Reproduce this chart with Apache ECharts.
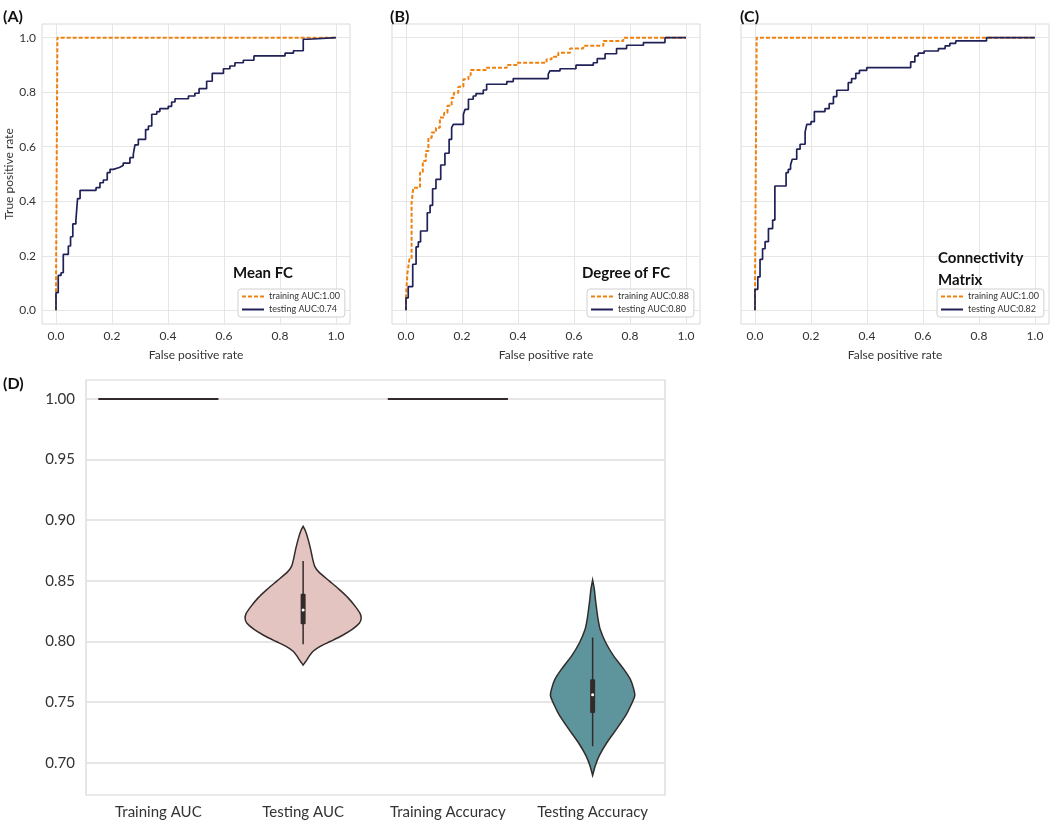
<!DOCTYPE html>
<html>
<head>
<meta charset="utf-8">
<script src="https://cdn.jsdelivr.net/npm/echarts@6.0.0/dist/echarts.min.js"></script>
<style>
  html, body { margin: 0; padding: 0; background: #fff; }
  #main { width: 1050px; height: 820px; }
</style>
</head>
<body>
<div id="main"></div>
<script>
var FONT = "Lato, 'Noto Sans', sans-serif";
var ORANGE = '#f0810f';
var NAVY = '#1f2158';

// ROC tick positions (shared by the three panels)
var rocTicks = [0, 0.2, 0.4, 0.6, 0.8, 1.0];

// corners of the step curves: go right to fpr[i], then up to tpr[i]
// (A) Mean FC
var fprTrainA = [0, 0, 0.005, 1.0];
var tprTrainA = [0, 0.07, 1.0, 1.0];
var fprTestA = [0, 0, 0.008, 0.018, 0.026, 0.044, 0.052, 0.06, 0.071, 0.077,
    0.086, 0.143, 0.157, 0.169, 0.183, 0.193, 0.205, 0.226, 0.24, 0.264,
    0.276, 0.282, 0.294, 0.32, 0.33, 0.342, 0.36, 0.371, 0.401, 0.413,
    0.425, 0.473, 0.496, 0.511, 0.538, 0.558, 0.598, 0.621, 0.639, 0.669,
    0.707, 0.818, 0.848, 0.883, 0.901, 1.0];
var tprTestA = [0, 0.065, 0.128, 0.138, 0.205, 0.236, 0.27, 0.317, 0.33, 0.41,
    0.44, 0.45, 0.468, 0.478, 0.505, 0.517, 0.524, 0.531, 0.54, 0.56,
    0.572, 0.607, 0.627, 0.663, 0.676, 0.719, 0.729, 0.74, 0.748, 0.764,
    0.776, 0.786, 0.796, 0.813, 0.84, 0.869, 0.886, 0.896, 0.908, 0.917,
    0.933, 0.943, 0.952, 0.994, 1.0, 1.0];

// (B) Degree of FC
var fprTrainB = [0, 0, 0.005, 0.012, 0.02, 0.026, 0.05, 0.06, 0.071, 0.08,
    0.092, 0.107, 0.121, 0.136, 0.148, 0.163, 0.171, 0.187, 0.205, 0.223,
    0.231, 0.288, 0.36, 0.395, 0.502, 0.52, 0.544, 0.586, 0.633, 0.705,
    0.776, 1.0];
var tprTrainB = [0, 0.053, 0.136, 0.187, 0.395, 0.45, 0.505, 0.548, 0.584, 0.633,
    0.652, 0.67, 0.707, 0.725, 0.75, 0.78, 0.798, 0.82, 0.847, 0.862,
    0.881, 0.89, 0.9, 0.908, 0.921, 0.93, 0.945, 0.96, 0.97, 0.988,
    1.0, 1.0];
var fprTestB = [0, 0, 0.008, 0.024, 0.036, 0.044, 0.052, 0.076, 0.086, 0.095,
    0.107, 0.124, 0.139, 0.154, 0.163, 0.169, 0.205, 0.211, 0.223, 0.24,
    0.25, 0.276, 0.288, 0.36, 0.383, 0.508, 0.514, 0.55, 0.607, 0.669,
    0.683, 0.711, 0.752, 0.788, 0.848, 0.925, 1.0];
var tprTestB = [0, 0.046, 0.087, 0.169, 0.233, 0.251, 0.291, 0.358, 0.385, 0.446,
    0.48, 0.533, 0.576, 0.627, 0.67, 0.682, 0.719, 0.737, 0.774, 0.786,
    0.795, 0.808, 0.829, 0.839, 0.85, 0.866, 0.878, 0.886, 0.899, 0.908,
    0.923, 0.941, 0.96, 0.972, 0.982, 1.0, 1.0];

// (C) Connectivity Matrix
var fprTrainC = [0, 0, 0.006, 1.0];
var tprTrainC = [0, 0.08, 1.0, 1.0];
var fprTestC = [0, 0, 0.01, 0.018, 0.027, 0.036, 0.048, 0.063, 0.071, 0.111,
    0.119, 0.127, 0.133, 0.149, 0.161, 0.179, 0.185, 0.2, 0.212, 0.25,
    0.265, 0.28, 0.292, 0.333, 0.345, 0.36, 0.373, 0.399, 0.556, 0.571,
    0.583, 0.604, 0.655, 0.679, 0.696, 0.717, 0.827, 1.0];
var tprTestC = [0, 0.077, 0.123, 0.187, 0.226, 0.252, 0.3, 0.331, 0.456, 0.505,
    0.517, 0.533, 0.554, 0.591, 0.609, 0.654, 0.682, 0.692, 0.729, 0.74,
    0.758, 0.784, 0.807, 0.835, 0.85, 0.869, 0.88, 0.89, 0.911, 0.933,
    0.943, 0.951, 0.96, 0.97, 0.979, 0.988, 1.0, 1.0];

// (D) violin panel
var violinCats = ['Training AUC', 'Testing AUC', 'Training Accuracy', 'Testing Accuracy'];
var violinTicks = [0.70, 0.75, 0.80, 0.85, 0.90, 0.95, 1.00];
var trainingValues = [1.0, 1.0];          // Training AUC, Training Accuracy
// density outline: value and half width (fraction of category band)
var aucVals = [0.895, 0.891, 0.884, 0.876, 0.868, 0.862, 0.857, 0.850, 0.843, 0.836, 0.829,
    0.823, 0.819, 0.815, 0.810, 0.805, 0.800, 0.796, 0.792, 0.788, 0.784, 0.7806];
var aucHW = [0, 0.017, 0.035, 0.052, 0.066, 0.080, 0.111, 0.180, 0.249, 0.311, 0.360,
    0.394, 0.401, 0.388, 0.339, 0.270, 0.187, 0.118, 0.069, 0.042, 0.021, 0];
var accVals = [0.8507, 0.843, 0.835, 0.8266, 0.818, 0.8101, 0.7992, 0.7882, 0.7773, 0.769,
    0.7608, 0.7553, 0.7471, 0.7389, 0.728, 0.717, 0.706, 0.6978, 0.6896];
var accHW = [0, 0.012, 0.019, 0.028, 0.038, 0.052, 0.090, 0.145, 0.215, 0.260,
    0.284, 0.291, 0.263, 0.228, 0.166, 0.100, 0.046, 0.019, 0];
// inner box: whisker low, q1, median, q3, whisker high
var boxLow = [0.7978, 0.7137];
var boxQ1 = [0.8143, 0.7411];
var boxMed = [0.826, 0.7562];
var boxQ3 = [0.8394, 0.769];
var boxHigh = [0.8663, 0.8033];


var myChart = echarts.init(document.getElementById('main'));

function pairs(xs, ys) {
    return xs.map(function (x, i) { return [x, ys[i]]; });
}

function rocSeries(name, fpr, tpr, idx, training) {
    return {
        name: name,
        type: 'line',
        xAxisIndex: idx,
        yAxisIndex: idx,
        step: 'end',
        symbol: 'none',
        z: training ? 2 : 3,
        data: pairs(fpr, tpr),
        itemStyle: { color: training ? ORANGE : NAVY },
        lineStyle: {
            color: training ? ORANGE : NAVY,
            width: training ? 2 : 1.7,
            type: training ? [4, 2] : 'solid'
        }
    };
}

var rocLefts = [42, 392, 741];
var grids = rocLefts.map(function (l) {
    return { left: l, top: 24, width: 308, height: 300, show: true, borderColor: '#d9d9d9', borderWidth: 1 };
});
grids.push({ left: 86, top: 380, width: 579, height: 415, show: true, borderColor: '#d6d6d6', borderWidth: 1.2 });

var xAxes = [], yAxes = [];
for (var i = 0; i < 3; i++) {
    xAxes.push({
        type: 'value', gridIndex: i, min: -0.05, max: 1.05,
        name: 'False positive rate', nameLocation: 'middle', nameGap: 25,
        nameTextStyle: { fontSize: 12, color: '#333', fontFamily: FONT },
        axisLine: { show: false },
        axisTick: { show: false, customValues: rocTicks },
        axisLabel: {
            customValues: rocTicks, fontSize: 12, color: '#333', fontFamily: FONT, margin: 6,
            formatter: function (v) { return v.toFixed(1); }
        },
        splitLine: { show: true, lineStyle: { color: '#e6e6e6', width: 1 } }
    });
    yAxes.push({
        type: 'value', gridIndex: i, min: -0.05, max: 1.05,
        name: i === 0 ? 'True positive rate' : '', nameLocation: 'middle', nameGap: 24,
        nameTextStyle: { fontSize: 12, color: '#333', fontFamily: FONT },
        axisLine: { show: false },
        axisTick: { show: false, customValues: rocTicks },
        axisLabel: {
            show: i === 0, customValues: rocTicks, fontSize: 12, color: '#333', fontFamily: FONT, margin: 6,
            formatter: function (v) { return v.toFixed(1); }
        },
        splitLine: { show: true, lineStyle: { color: '#e6e6e6', width: 1 } }
    });
}
xAxes.push({
    type: 'category', gridIndex: 3, data: violinCats, boundaryGap: true,
    axisLine: { show: false }, axisTick: { show: false },
    axisLabel: { interval: 0, fontSize: 15, color: '#333', fontFamily: FONT, margin: 10 },
    splitLine: { show: false }
});
yAxes.push({
    type: 'value', gridIndex: 3, min: 0.6735, max: 1.0156,
    axisLine: { show: false },
    axisTick: { show: false, customValues: violinTicks },
    axisLabel: {
        customValues: violinTicks, fontSize: 15, color: '#333', fontFamily: FONT, margin: 11,
        formatter: function (v) { return v.toFixed(2); }
    },
    splitLine: { show: true, lineStyle: { color: '#dedede', width: 1.5 } }
});

function violinRender(vals, hws) {
    return function (params, api) {
        var cat = api.value(0);
        var band = api.size([1, 0])[0];
        var cx = api.coord([cat, vals[0]])[0];
        var right = [], left = [];
        for (var k = 0; k < vals.length; k++) {
            var y = api.coord([cat, vals[k]])[1];
            right.push([cx + hws[k] * band, y]);
            left.unshift([cx - hws[k] * band, y]);
        }
        return {
            type: 'polygon',
            shape: { points: right.concat(left), smooth: 0.25 },
            style: { fill: api.visual('color'), stroke: '#332b2b', lineWidth: 1.5 }
        };
    };
}

function boxRender(params, api) {
    var cat = api.value(0);
    var lo = api.coord([cat, api.value(1)]);
    var q1 = api.coord([cat, api.value(2)]);
    var md = api.coord([cat, api.value(3)]);
    var q3 = api.coord([cat, api.value(4)]);
    var hi = api.coord([cat, api.value(5)]);
    return {
        type: 'group',
        children: [
            { type: 'line', shape: { x1: lo[0], y1: lo[1], x2: hi[0], y2: hi[1] }, style: { stroke: '#332b2b', lineWidth: 1.5 } },
            { type: 'rect', shape: { x: q3[0] - 2.5, y: q3[1], width: 5, height: q1[1] - q3[1], r: 1 }, style: { fill: '#332b2b' } },
            { type: 'circle', shape: { cx: md[0], cy: md[1], r: 1.5 }, style: { fill: '#fff' } }
        ]
    };
}

function trainLineRender(params, api) {
    var cat = api.value(0);
    var band = api.size([1, 0])[0];
    var p = api.coord([cat, api.value(1)]);
    return {
        type: 'line',
        shape: { x1: p[0] - 0.415 * band, y1: p[1], x2: p[0] + 0.415 * band, y2: p[1] },
        style: { stroke: '#332b2b', lineWidth: 2 }
    };
}

var series = [
    rocSeries('training AUC:1.00', fprTrainA, tprTrainA, 0, true),
    rocSeries('testing AUC:0.74', fprTestA, tprTestA, 0, false),
    rocSeries('training AUC:0.88', fprTrainB, tprTrainB, 1, true),
    rocSeries('testing AUC:0.80', fprTestB, tprTestB, 1, false),
    rocSeries('training AUC:1.00', fprTrainC, tprTrainC, 2, true),
    rocSeries('testing AUC:0.82', fprTestC, tprTestC, 2, false),
    {
        type: 'custom', xAxisIndex: 3, yAxisIndex: 3,
        renderItem: violinRender(aucVals, aucHW),
        itemStyle: { color: '#e3c4c0' },
        data: [[1, boxMed[0]]]
    },
    {
        type: 'custom', xAxisIndex: 3, yAxisIndex: 3,
        renderItem: violinRender(accVals, accHW),
        itemStyle: { color: '#5e949c' },
        data: [[3, boxMed[1]]]
    },
    {
        type: 'custom', xAxisIndex: 3, yAxisIndex: 3, z: 4,
        renderItem: boxRender,
        encode: { x: 0, y: [1, 2, 3, 4, 5] },
        data: [1, 3].map(function (c, k) {
            return [c, boxLow[k], boxQ1[k], boxMed[k], boxQ3[k], boxHigh[k]];
        })
    },
    {
        type: 'custom', xAxisIndex: 3, yAxisIndex: 3,
        renderItem: trainLineRender,
        data: [[0, trainingValues[0]], [2, trainingValues[1]]]
    }
];

function legendAt(left, names) {
    return {
        data: names, orient: 'vertical', left: left, top: 289,
        padding: [3, 5, 3, 3], itemGap: 4, itemWidth: 22, itemHeight: 8,
        borderColor: '#d0d0d0', borderWidth: 1, borderRadius: 3, backgroundColor: '#fff',
        selectedMode: false,
        itemStyle: { opacity: 0 },
        textStyle: { fontSize: 9, color: '#333', fontFamily: FONT }
    };
}

function label(text, left, top, size) {
    return {
        text: text, left: left, top: top, padding: 0,
        textStyle: { fontSize: size, fontWeight: 'bold', color: '#111', fontFamily: FONT, lineHeight: 22 }
    };
}

var option = {
    backgroundColor: '#fff',
    animation: false,
    title: [
        label('(A)', 3, 6, 16),
        label('(B)', 390, 6, 16),
        label('(C)', 740, 6, 16),
        label('(D)', 3, 373, 16),
        label('Mean FC', 233, 262, 15),
        label('Degree of FC', 582, 262, 15),
        label('Connectivity\nMatrix', 938, 247, 15)
    ],
    legend: [
        legendAt(238, ['training AUC:1.00', 'testing AUC:0.74']),
        legendAt(587, ['training AUC:0.88', 'testing AUC:0.80']),
        legendAt(937, ['training AUC:1.00', 'testing AUC:0.82'])
    ],
    grid: grids,
    xAxis: xAxes,
    yAxis: yAxes,
    series: series
};
myChart.setOption(option);
</script>
</body>
</html>
